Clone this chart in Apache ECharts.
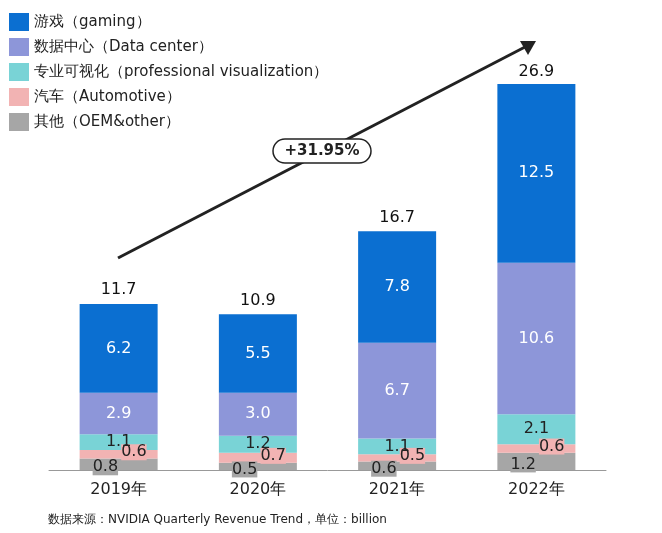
<!DOCTYPE html>
<html>
<head>
<meta charset="UTF-8">
<script src="https://cdn.jsdelivr.net/npm/echarts@6/dist/echarts.min.js"></script>
</head>
<body style="margin:0">
<div id="main" style="width:662px;height:533px;"></div>
<script>
  var years = ['2019年', '2020年', '2021年', '2022年']
  var other = [0.8, 0.5, 0.6, 1.2]
  var auto = [0.6, 0.7, 0.5, 0.6]
  var pro = [1.1, 1.2, 1.1, 2.1]
  var dataCenter = [2.9, 3.0, 6.7, 10.6]
  var gaming = [6.2, 5.5, 7.8, 12.5]
  var totals = [11.7, 10.9, 16.7, 26.9]

  var font = 'DejaVu Sans'
  var chart = echarts.init(document.getElementById('main'))

  function fmt(p) { return Number(p.value).toFixed(1) }

  function seg(name, data, color, label) {
    return {
      name: name, type: 'bar', stack: 'rev', data: data, barWidth: 78,
      itemStyle: { color: color },
      label: Object.assign({ show: true, fontSize: 16, fontFamily: font, color: '#222', formatter: fmt }, label || {})
    }
  }

  chart.setOption({
    animation: false,
    legend: {
      orient: 'vertical', left: 4, top: 8, itemGap: 7, itemWidth: 20, itemHeight: 18,
      icon: 'rect', textStyle: { fontSize: 15, fontFamily: font, color: '#222' },
      data: ['游戏（gaming）', '数据中心（Data center）', '专业可视化（professional visualization）', '汽车（Automotive）', '其他（OEM&other）']
    },
    grid: { left: 49, right: 56, top: 41, bottom: 63 },
    xAxis: {
      type: 'category', data: years,
      axisLine: { lineStyle: { color: '#999' } }, axisTick: { show: false },
      axisLabel: { fontSize: 16, fontFamily: font, color: '#222', margin: 12 }
    },
    yAxis: { type: 'value', min: 0, max: 30, show: false },
    series: [
      seg('其他（OEM&other）', other, '#a6a6a6', { position: 'insideLeft', offset: [8, 3], backgroundColor: '#a6a6a6' }),
      seg('汽车（Automotive）', auto, '#f2b3b3', { position: 'insideRight', offset: [-6, -2], backgroundColor: '#f2b3b3' }),
      seg('专业可视化（professional visualization）', pro, '#79d3d6'),
      seg('数据中心（Data center）', dataCenter, '#8d96d9', { color: '#fff' }),
      seg('游戏（gaming）', gaming, '#0b6fd1', { color: '#fff' }),
      {
        name: 'total', type: 'scatter', data: totals, symbolSize: 2, z: 10,
        itemStyle: { color: 'rgba(0,0,0,0)' },
        label: { show: true, position: 'top', distance: 4, fontSize: 16, fontFamily: font, color: '#111', opacity: 1, formatter: fmt }
      }
    ],
    graphic: [
      { type: 'line', shape: { x1: 118, y1: 258, x2: 525, y2: 47 }, style: { stroke: '#222', lineWidth: 3 } },
      { type: 'polygon', shape: { points: [[536, 41], [520, 41], [528, 55]] }, style: { fill: '#222' } },
      {
        type: 'rect', shape: { x: 273, y: 139, width: 98, height: 24, r: 12 },
        style: { fill: '#fff', stroke: '#222', lineWidth: 1.5 }
      },
      { type: 'text', x: 322, y: 151, style: { text: '+31.95%', fontSize: 15, fontWeight: 'bold', fontFamily: font, fill: '#222', align: 'center', verticalAlign: 'middle' } },
      { type: 'text', x: 48, y: 514, style: { text: '数据来源：NVIDIA Quarterly Revenue Trend，单位：billion', fontSize: 12, fontFamily: font, fill: '#222' } }
    ]
  })
</script>
</body>
</html>
